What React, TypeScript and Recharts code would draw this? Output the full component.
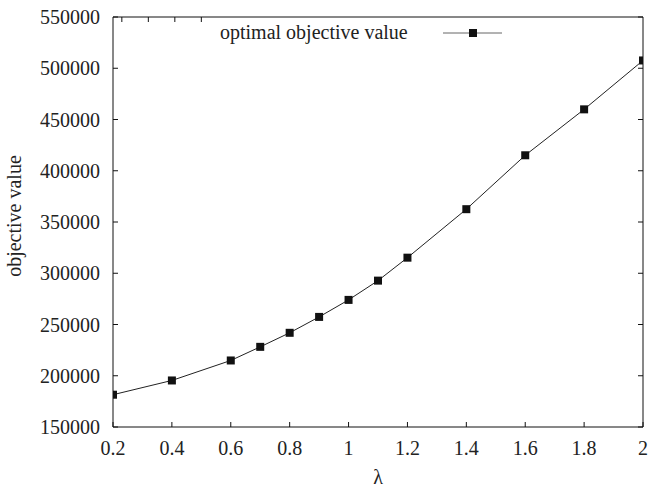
import React from 'react';
import { LineChart, Line, XAxis, YAxis } from 'recharts';

// lambda values and optimal objective values
const lambdas = [0.2, 0.4, 0.6, 0.7, 0.8, 0.9, 1.0, 1.1, 1.2, 1.4, 1.6, 1.8, 2.0];
const objectiveValues = [181500, 195400, 214900, 228200, 241900, 257400, 274000, 292800, 315200, 362500, 415100, 459900, 507600];

const xTicks = [0.2, 0.4, 0.6, 0.8, 1, 1.2, 1.4, 1.6, 1.8, 2];
const yTicks = [150000, 200000, 250000, 300000, 350000, 400000, 450000, 500000, 550000];

const data = lambdas.map((l, i) => ({ lambda: l, value: objectiveValues[i] }));

const FONT = '"Liberation Serif", "Times New Roman", serif';
const FS = 20;
const TXT = '#222';
const TICK = 5;

// gnuplot-ish filled square point
const SquareDot = (props: any) => {
  const { cx, cy } = props;
  if (cx == null || cy == null) return null;
  return <rect x={cx - 4} y={cy - 4} width={8} height={8} fill="#111" />;
};

// inward ticks, gnuplot style
const BottomTick = (p: any) => (
  <g>
    <line x1={p.x} y1={p.y} x2={p.x} y2={p.y - TICK} stroke="#111" />
    <text x={p.x} y={p.y + 28} textAnchor="middle" fontFamily={FONT} fontSize={FS} fill={TXT}>
      {p.payload.value}
    </text>
  </g>
);
const LeftTick = (p: any) => (
  <g>
    <line x1={p.x} y1={p.y} x2={p.x + TICK} y2={p.y} stroke="#111" />
    <text x={p.x - 13} y={p.y + 7} textAnchor="end" fontFamily={FONT} fontSize={FS} fill={TXT}>
      {p.payload.value}
    </text>
  </g>
);
const TopTick = (p: any) => <line x1={p.x} y1={p.y} x2={p.x} y2={p.y + TICK} stroke="#111" />;
const RightTick = (p: any) => <line x1={p.x} y1={p.y} x2={p.x - TICK} y2={p.y} stroke="#111" />;

export default function App() {
  return (
    <div style={{ position: 'absolute', left: 0, top: 0, width: 649, height: 487, background: '#fff', fontFamily: FONT }}>
      <LineChart width={649} height={487} data={data} margin={{ top: 16, right: 5, left: 13, bottom: 0 }}>
        <XAxis
          dataKey="lambda"
          type="number"
          domain={[0.2, 2]}
          ticks={xTicks}
          tick={<BottomTick />}
          tickSize={0}
          tickMargin={0}
          height={60}
          axisLine={{ stroke: '#111' }}
          tickLine={false}
          allowDataOverflow
          label={{
            content: (p: any) => {
              const vb = p.viewBox;
              return (
                <text x={vb.x + vb.width / 2} y={vb.y + 57} textAnchor="middle" fontFamily={FONT} fontSize={FS} fill={TXT}>
                  λ
                </text>
              );
            },
          }}
        />
        <XAxis
          xAxisId="top"
          orientation="top"
          type="number"
          domain={[0.2, 2]}
          ticks={xTicks}
          tick={<TopTick />}
          tickSize={0}
          tickMargin={0}
          height={1}
          axisLine={{ stroke: '#111' }}
          tickLine={false}
          allowDataOverflow
        />
        <YAxis
          type="number"
          domain={[150000, 550000]}
          ticks={yTicks}
          tick={<LeftTick />}
          tickSize={0}
          tickMargin={0}
          width={100}
          axisLine={{ stroke: '#111' }}
          tickLine={false}
          allowDataOverflow
          label={{
            content: (p: any) => {
              const vb = p.viewBox;
              const cy = vb.y + vb.height / 2 - 6;
              return (
                <text x={14} y={cy} transform={`rotate(-90 14 ${cy})`} textAnchor="middle" dominantBaseline="central" fontFamily={FONT} fontSize={FS} fill={TXT}>
                  objective value
                </text>
              );
            },
          }}
        />
        <YAxis
          yAxisId="right"
          orientation="right"
          type="number"
          domain={[150000, 550000]}
          ticks={yTicks}
          tick={<RightTick />}
          tickSize={0}
          tickMargin={0}
          width={1}
          axisLine={{ stroke: '#111' }}
          tickLine={false}
          allowDataOverflow
        />
        <Line
          dataKey="value"
          stroke="#222"
          strokeWidth={1}
          dot={<SquareDot />}
          activeDot={false}
          isAnimationActive={false}
        />
      </LineChart>
      <div style={{ position: 'absolute', left: 220, top: 21, display: 'flex', alignItems: 'center', fontSize: FS, color: TXT, whiteSpace: 'nowrap' }}>
        <span>optimal objective value</span>
        <svg width={62} height={12} style={{ marginLeft: 35 }}>
          <line x1={0} y1={6} x2={59} y2={6} stroke="#666" strokeWidth={1} />
          <rect x={26} y={2} width={8} height={8} fill="#111" />
        </svg>
      </div>
    </div>
  );
}
